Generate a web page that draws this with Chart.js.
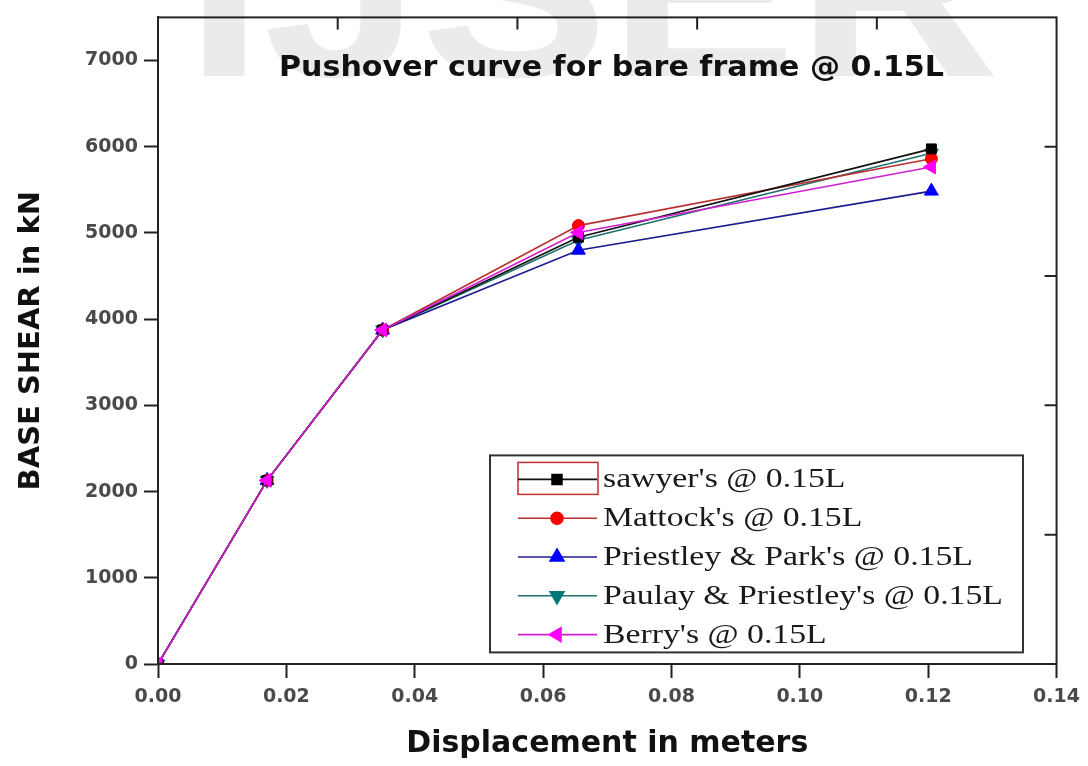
<!DOCTYPE html>
<html>
<head>
<meta charset="utf-8">
<script src="https://cdn.jsdelivr.net/npm/chart.js@4/dist/chart.umd.min.js"></script>
<style>
    html, body { margin: 0; padding: 0; background: #fff; }
    #wrap { width: 1088px; height: 766px; }
</style>
</head>
<body>
<div id="wrap"><canvas id="pushover_chart"></canvas></div>
<script>
// Displacement (m) at each step of the pushover analysis.
var displacement = [0, 0.017, 0.035, 0.0655, 0.1205];

// Base shear (kN) for each stiffness model.
var sawyer = [0, 2130, 3875, 4950, 5975];
var mattock = [0, 2130, 3875, 5085, 5860];
var priestleyPark = [0, 2130, 3875, 4800, 5485];
var paulayPriestley = [0, 2130, 3875, 4915, 5925];
var berry = [0, 2130, 3875, 5005, 5765];

var seriesNames = ["sawyer's @ 0.15L", "Mattock's @ 0.15L", "Priestley & Park's @ 0.15L",
    "Paulay & Priestley's @ 0.15L", "Berry's @ 0.15L"];

// Tick values.
var xTicks = [0, 0.02, 0.04, 0.06, 0.08, 0.10, 0.12, 0.14];
var yTicks = [0, 1000, 2000, 3000, 4000, 5000, 6000, 7000];
var topTicks = [0.028, 0.056, 0.084, 0.112];
var rightTicks = [1500, 3000, 4500, 6000];

/**
 * Pair the displacement values with one series of base shear values.
 */
function points(values) {
    return values.map(function(v, i) { return {x: displacement[i], y: v}; });
}

function series(idx, values, line, fill, style, rot, radius, order) {
    return {
        label: seriesNames[idx],
        data: points(values),
        borderColor: line,
        backgroundColor: fill,
        pointBackgroundColor: fill,
        pointBorderColor: fill,
        pointBorderWidth: 1,
        pointStyle: style,
        pointRotation: rot,
        pointRadius: radius,
        borderWidth: 1.6,
        tension: 0,
        order: order
    };
}

var datasets = [
    series(0, sawyer, '#111111', '#000000', 'rect', 0, 7, 1),
    series(1, mattock, '#b83030', '#ff0000', 'circle', 0, 6, 2),
    series(2, priestleyPark, '#1c1c90', '#0000ff', 'triangle', 0, 8, 3),
    series(3, paulayPriestley, '#1f7070', '#007878', 'triangle', 180, 8, 4),
    series(4, berry, '#d020d0', '#ff00ff', 'triangle', 270, 8, 0)
];

// Faint watermark behind the plot.
var watermark = {
    id: 'watermark',
    beforeDraw(chart) {
        var ctx = chart.ctx;
        ctx.save();
        ctx.font = 'bold 250px "Liberation Sans", Arial, sans-serif';
        var w = ctx.measureText('IJSER').width;
        ctx.translate(185, 76);
        ctx.scale(815 / w, 1);
        ctx.fillStyle = '#ebebeb';
        ctx.textBaseline = 'alphabetic';
        ctx.fillText('IJSER', 0, 0);
        ctx.restore();
    }
};

// Frame, mirror ticks, inner title and the boxed legend.
var decorations = {
    id: 'decorations',
    afterDraw(chart) {
        var ctx = chart.ctx;
        var a = chart.chartArea;
        var xs = chart.scales.x, ys = chart.scales.y;
        ctx.save();

        // Box around the plot area.
        ctx.strokeStyle = '#222';
        ctx.lineWidth = 2;
        ctx.strokeRect(a.left, a.top, a.right - a.left, a.bottom - a.top);

        // Inward ticks on the top and right edges.
        ctx.beginPath();
        topTicks.forEach(function(v) {
            var px = xs.getPixelForValue(v);
            ctx.moveTo(px, a.top);
            ctx.lineTo(px, a.top + 12);
        });
        rightTicks.forEach(function(v) {
            var py = ys.getPixelForValue(v);
            ctx.moveTo(a.right, py);
            ctx.lineTo(a.right - 12, py);
        });
        ctx.stroke();

        // Title inside the plot.
        var title = 'Pushover curve for bare frame @ 0.15L';
        ctx.font = 'bold 28px "DejaVu Sans", sans-serif';
        var tw = ctx.measureText(title).width;
        ctx.save();
        ctx.translate(a.left + 121, a.top + 51);
        ctx.scale(665 / tw, 1);
        ctx.fillStyle = '#111';
        ctx.textBaseline = 'middle';
        ctx.textAlign = 'left';
        ctx.fillText(title, 0, 0);
        ctx.restore();

        // Legend box.
        var bx = a.left + 332, by = a.top + 438, bw = 533, bh = 197;
        ctx.fillStyle = '#fff';
        ctx.fillRect(bx, by, bw, bh);
        ctx.strokeStyle = '#333';
        ctx.lineWidth = 2;
        ctx.strokeRect(bx, by, bw, bh);

        // Red selection box around the first sample.
        ctx.strokeStyle = '#c03030';
        ctx.lineWidth = 1.5;
        ctx.strokeRect(bx + 28, by + 7, 80, 32);

        chart.data.datasets.forEach(function(ds, i) {
            var cy = by + 24 + i * 38.8;
            ctx.strokeStyle = ds.borderColor;
            ctx.lineWidth = 1.6;
            ctx.beginPath();
            ctx.moveTo(bx + 28, cy);
            ctx.lineTo(bx + 107, cy);
            ctx.stroke();
            ctx.fillStyle = ds.pointBackgroundColor;
            ctx.strokeStyle = ds.pointBorderColor;
            Chart.helpers.drawPoint(ctx, {
                pointStyle: ds.pointStyle,
                rotation: ds.pointRotation,
                radius: ds.pointRadius,
                borderWidth: 1
            }, bx + 67, cy);

            ctx.font = '27px "Liberation Serif", "Times New Roman", serif';
            ctx.save();
            ctx.translate(bx + 113, cy + 1);
            ctx.scale(1.25, 1);
            ctx.fillStyle = '#1a1a1a';
            ctx.textBaseline = 'middle';
            ctx.textAlign = 'left';
            ctx.fillText(ds.label, 0, 0);
            ctx.restore();
        });

        ctx.restore();
    }
};

function make_chart() {
    var tickFont = { family: '"DejaVu Sans", sans-serif', size: 19, weight: 'bold' };
    new Chart(document.getElementById('pushover_chart'), {
        type: 'line',
        data: { datasets: datasets },
        plugins: [watermark, decorations],
        options: {
            responsive: true,
            maintainAspectRatio: false,
            animation: false,
            layout: { padding: { top: 14, right: 31, left: 0, bottom: 0 } },
            plugins: {
                legend: { display: false },
                tooltip: { enabled: false }
            },
            scales: {
                x: {
                    type: 'linear',
                    min: 0,
                    max: 0.14,
                    afterBuildTicks: function(s) {
                        s.ticks = xTicks.map(function(v) { return {value: v}; });
                    },
                    afterFit: function(s) { s.height = 102; },
                    ticks: {
                        color: '#4a4a4a',
                        padding: 8,
                        font: tickFont,
                        callback: function(v) { return Number(v).toFixed(2); }
                    },
                    grid: {
                        drawOnChartArea: false,
                        drawTicks: true,
                        tickLength: 14,
                        tickWidth: 2,
                        tickColor: '#222'
                    },
                    border: { display: true, color: '#222', width: 2 },
                    title: {
                        display: true,
                        text: 'Displacement in meters',
                        color: '#111',
                        padding: { top: 0, bottom: 4 },
                        font: { family: '"DejaVu Sans", sans-serif', size: 30, weight: 'bold' }
                    }
                },
                y: {
                    type: 'linear',
                    min: 0,
                    max: 7500,
                    afterBuildTicks: function(s) {
                        s.ticks = yTicks.map(function(v) { return {value: v}; });
                    },
                    afterFit: function(s) { s.width = 158; },
                    ticks: {
                        color: '#4a4a4a',
                        padding: 6,
                        font: tickFont,
                        callback: function(v) { return String(v); }
                    },
                    grid: {
                        drawOnChartArea: false,
                        drawTicks: true,
                        tickLength: 14,
                        tickWidth: 2,
                        tickColor: '#222'
                    },
                    border: { display: true, color: '#222', width: 2 },
                    title: {
                        display: true,
                        text: 'BASE SHEAR in kN',
                        color: '#111',
                        padding: { top: 14, bottom: 0 },
                        font: { family: '"DejaVu Sans", sans-serif', size: 29, weight: 'bold' }
                    }
                }
            }
        }
    });
}

make_chart();
</script>
</body>
</html>
